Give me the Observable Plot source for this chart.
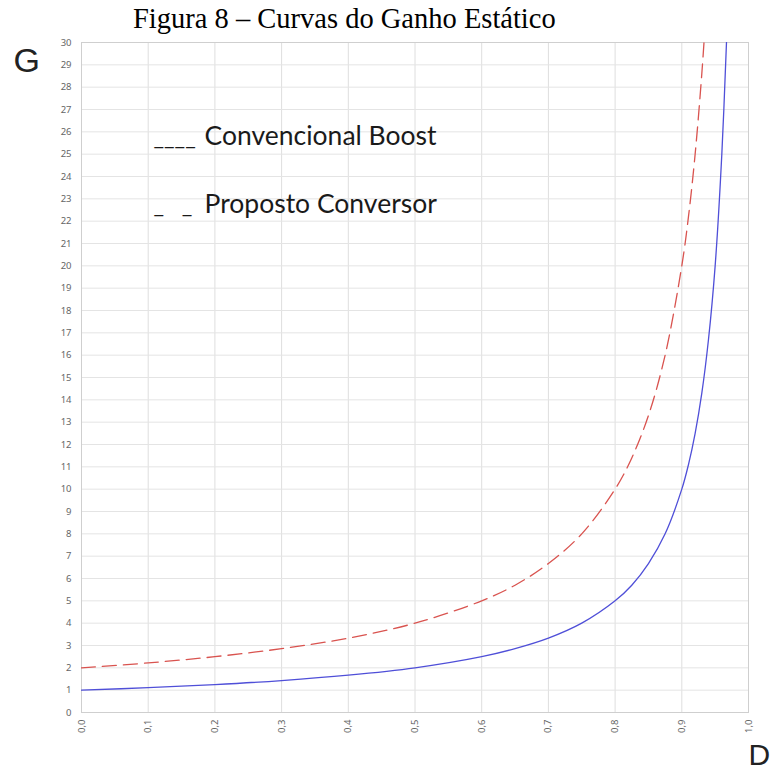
<!DOCTYPE html>
<html>
<head>
<meta charset="utf-8">
<script src="https://cdn.jsdelivr.net/npm/d3@7"></script>
<script src="https://cdn.jsdelivr.net/npm/@observablehq/plot@0.6"></script>
<style>
  html, body { margin: 0; padding: 0; background: #fff; }
  #title {
    height: 36px;
    padding-left: 133px;
    font-family: "Liberation Serif", "Times New Roman", serif;
    font-size: 28.5px;
    line-height: 38px;
    color: #000;
    white-space: nowrap;
  }
  #chart svg { display: block; }
</style>
</head>
<body>
<div id="title">Figura 8 – Curvas do Ganho Estático</div>
<div id="chart"></div>
<script>
// Duty cycle D and static gain G
const boostD = [0, 0.1, 0.2, 0.3, 0.4, 0.5, 0.6, 0.65, 0.7, 0.75, 0.8, 0.825, 0.85, 0.875, 0.9, 0.91, 0.92, 0.93, 0.94, 0.95, 0.96, 0.967];
const boostG = [1, 1.11, 1.25, 1.43, 1.67, 2, 2.5, 2.86, 3.33, 4, 5, 5.7, 6.67, 8, 10, 11.1, 12.5, 14.3, 16.7, 20, 25, 30];

const propD = [0, 0.1, 0.2, 0.3, 0.4, 0.5, 0.6, 0.65, 0.7, 0.75, 0.8, 0.825, 0.85, 0.875, 0.9, 0.91, 0.92, 0.93, 0.935];
const propG = [2, 2.22, 2.5, 2.86, 3.33, 4, 5, 5.7, 6.67, 8, 10, 11.4, 13.3, 16, 20, 22.2, 25, 28.6, 30.8];

// Tick values
const xTicks = [0, 0.1, 0.2, 0.3, 0.4, 0.5, 0.6, 0.7, 0.8, 0.9, 1.0];
const yTicks = d3.range(0, 31);

// Hand-typed key: underscore strokes followed by the series names
const legendKeys = ["____", "_\u00A0\u00A0\u00A0_"];
const legendLabels = ["Convencional Boost", "Proposto Conversor"];

const boost = boostD.map((d, i) => ({D: d, G: boostG[i]}));
const prop = propD.map((d, i) => ({D: d, G: propG[i]}));

const comma = d => d.toFixed(1).replace(".", ",");

const keyStyle = {frameAnchor: "top-left", dx: 72, lineAnchor: "bottom", textAnchor: "start", fontSize: 23, fill: "#1a1a1a", fontFamily: "Lato, sans-serif"};
const labelStyle = {frameAnchor: "top-left", dx: 123, lineAnchor: "bottom", textAnchor: "start", fontSize: 26.5, fill: "#1a1a1a", fontFamily: "Lato, sans-serif"};

const chart = Plot.plot({
  width: 772,
  height: 737,
  marginTop: 6,
  marginBottom: 61,
  marginLeft: 81,
  marginRight: 24,
  style: {background: "#fff", color: "#555"},
  x: {domain: [0, 1], label: null},
  y: {domain: [0, 30], label: null},
  marks: [
    Plot.gridX(xTicks, {stroke: "#dedede", strokeOpacity: 1}),
    Plot.gridY(yTicks, {stroke: "#e4e4e4", strokeOpacity: 1}),
    Plot.frame({stroke: "#cfcfcf"}),
    Plot.axisX({ticks: xTicks, tickFormat: comma, tickRotate: -90, tickSize: 0, tickPadding: 7, fontSize: 9.5, fill: "#666", label: null}),
    Plot.axisY({ticks: yTicks, tickSize: 0, tickPadding: 10, fontSize: 9.5, fill: "#666", label: null}),
    Plot.line(prop, {x: "D", y: "G", stroke: "#d9534f", strokeWidth: 1.3, strokeDasharray: "14,7", curve: "catmull-rom", clip: true}),
    Plot.line(boost, {x: "D", y: "G", stroke: "#4f4fd8", strokeWidth: 1.3, curve: "catmull-rom", clip: true}),
    Plot.text([legendKeys[0]], {...keyStyle, dy: 102}),
    Plot.text([legendKeys[1]], {...keyStyle, dy: 170}),
    Plot.text([legendLabels[0]], {...labelStyle, dy: 102}),
    Plot.text([legendLabels[1]], {...labelStyle, dy: 170}),
    Plot.text(["G"], {frameAnchor: "top-left", dx: -68, dy: 5, lineAnchor: "top", textAnchor: "start", fontSize: 34, fill: "#222", fontFamily: "Liberation Sans, sans-serif"}),
    Plot.text(["D"], {frameAnchor: "bottom-right", dx: 0, dy: 52, lineAnchor: "bottom", textAnchor: "start", fontSize: 30, fill: "#222", fontFamily: "Liberation Sans, sans-serif"})
  ]
});
document.getElementById("chart").appendChild(chart);
</script>
</body>
</html>
